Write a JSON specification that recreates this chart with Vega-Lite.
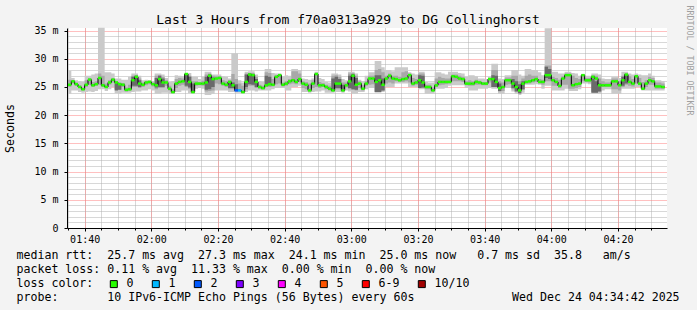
{
"$schema":"https://vega.github.io/schema/vega-lite/v6.json",
"width":600,"height":200,
"autosize":{"type":"none"},
"padding":{"left":67,"top":28,"right":30,"bottom":82},
"background":"#f3f3f3",
"config":{"font":"DejaVu Sans Mono","view":{"fill":"#ffffff","stroke":null}},
"title":{"text":"Last 3 Hours from f70a0313a929 to DG Collinghorst","font":"DejaVu Sans Mono","fontSize":13,"fontWeight":"normal","color":"#000000","anchor":"middle","dx":-19,"offset":4,"baseline":"alphabetic","dy":36},
"data":{"format":{"parse":{"t":"date"}},"values":[
{"t":"2025-12-24T01:35","m":25.4,"lo":23.8,"hi":27.9,"ml":25.0,"mh":26.3,"dl":25.4,"dh":25.4,"loss":"0"},
{"t":"2025-12-24T01:36","m":26.0,"lo":24.4,"hi":26.6,"ml":25.6,"mh":26.2,"dl":26.0,"dh":26.0,"loss":"0"},
{"t":"2025-12-24T01:37","m":25.5,"lo":24.4,"hi":26.2,"ml":25.2,"mh":25.8,"dl":25.5,"dh":25.5,"loss":"0"},
{"t":"2025-12-24T01:38","m":25.0,"lo":24.1,"hi":26.0,"ml":24.8,"mh":25.3,"dl":25.0,"dh":25.0,"loss":"0"},
{"t":"2025-12-24T01:39","m":24.6,"lo":24.0,"hi":25.9,"ml":24.4,"mh":24.9,"dl":24.6,"dh":24.6,"loss":"0"},
{"t":"2025-12-24T01:40","m":25.4,"lo":24.1,"hi":27.0,"ml":25.0,"mh":26.2,"dl":25.4,"dh":25.4,"loss":"0"},
{"t":"2025-12-24T01:41","m":26.3,"lo":24.2,"hi":27.0,"ml":25.4,"mh":26.6,"dl":26.3,"dh":26.3,"loss":"0"},
{"t":"2025-12-24T01:42","m":25.3,"lo":24.1,"hi":27.2,"ml":25.0,"mh":25.9,"dl":25.3,"dh":25.3,"loss":"0"},
{"t":"2025-12-24T01:43","m":25.5,"lo":24.3,"hi":27.4,"ml":25.2,"mh":26.0,"dl":25.5,"dh":25.5,"loss":"0"},
{"t":"2025-12-24T01:44","m":26.6,"lo":24.6,"hi":35.5,"ml":25.4,"mh":27.4,"dl":26.6,"dh":26.6,"loss":"0"},
{"t":"2025-12-24T01:45","m":25.3,"lo":24.6,"hi":35.5,"ml":25.0,"mh":27.0,"dl":25.3,"dh":25.3,"loss":"0"},
{"t":"2025-12-24T01:46","m":25.0,"lo":24.3,"hi":27.6,"ml":24.8,"mh":25.6,"dl":25.0,"dh":25.0,"loss":"0"},
{"t":"2025-12-24T01:47","m":25.8,"lo":24.6,"hi":27.6,"ml":25.4,"mh":26.2,"dl":25.8,"dh":25.8,"loss":"0"},
{"t":"2025-12-24T01:48","m":26.3,"lo":25.0,"hi":27.4,"ml":25.8,"mh":26.6,"dl":26.3,"dh":26.3,"loss":"0"},
{"t":"2025-12-24T01:49","m":25.8,"lo":23.9,"hi":26.5,"ml":24.6,"mh":26.0,"dl":24.4,"dh":25.8,"loss":"0"},
{"t":"2025-12-24T01:50","m":25.5,"lo":23.8,"hi":26.5,"ml":24.5,"mh":25.8,"dl":24.5,"dh":25.5,"loss":"0"},
{"t":"2025-12-24T01:51","m":25.4,"lo":24.0,"hi":26.3,"ml":25.0,"mh":25.7,"dl":25.4,"dh":25.4,"loss":"0"},
{"t":"2025-12-24T01:52","m":24.5,"lo":24.0,"hi":26.3,"ml":24.2,"mh":24.9,"dl":24.5,"dh":24.5,"loss":"0"},
{"t":"2025-12-24T01:53","m":24.6,"lo":24.0,"hi":26.8,"ml":24.3,"mh":25.4,"dl":24.6,"dh":24.6,"loss":"0"},
{"t":"2025-12-24T01:54","m":26.2,"lo":24.1,"hi":27.4,"ml":25.0,"mh":27.0,"dl":25.2,"dh":26.8,"loss":"0"},
{"t":"2025-12-24T01:55","m":26.8,"lo":24.2,"hi":27.4,"ml":25.0,"mh":27.1,"dl":25.2,"dh":27.0,"loss":"0"},
{"t":"2025-12-24T01:56","m":25.6,"lo":24.2,"hi":27.0,"ml":24.8,"mh":26.5,"dl":25.0,"dh":26.2,"loss":"0"},
{"t":"2025-12-24T01:57","m":25.4,"lo":24.4,"hi":26.2,"ml":25.0,"mh":25.8,"dl":25.4,"dh":25.4,"loss":"0"},
{"t":"2025-12-24T01:58","m":25.8,"lo":24.4,"hi":26.3,"ml":25.3,"mh":26.0,"dl":25.8,"dh":25.8,"loss":"0"},
{"t":"2025-12-24T01:59","m":25.9,"lo":24.6,"hi":26.2,"ml":25.5,"mh":26.1,"dl":25.9,"dh":25.9,"loss":"0"},
{"t":"2025-12-24T02:00","m":25.5,"lo":24.4,"hi":26.0,"ml":25.1,"mh":25.8,"dl":25.5,"dh":25.5,"loss":"0"},
{"t":"2025-12-24T02:01","m":25.3,"lo":23.8,"hi":27.4,"ml":24.6,"mh":27.0,"dl":24.9,"dh":26.6,"loss":"0"},
{"t":"2025-12-24T02:02","m":26.4,"lo":23.8,"hi":27.4,"ml":24.8,"mh":27.1,"dl":25.0,"dh":27.0,"loss":"0"},
{"t":"2025-12-24T02:03","m":25.8,"lo":24.0,"hi":27.2,"ml":24.8,"mh":26.8,"dl":25.0,"dh":26.5,"loss":"0"},
{"t":"2025-12-24T02:04","m":25.8,"lo":24.0,"hi":26.6,"ml":25.2,"mh":26.2,"dl":25.8,"dh":25.8,"loss":"0"},
{"t":"2025-12-24T02:05","m":24.7,"lo":23.8,"hi":25.9,"ml":24.4,"mh":25.2,"dl":24.7,"dh":24.7,"loss":"0"},
{"t":"2025-12-24T02:06","m":24.1,"lo":23.8,"hi":26.0,"ml":23.9,"mh":24.6,"dl":24.1,"dh":24.1,"loss":"0"},
{"t":"2025-12-24T02:07","m":25.6,"lo":24.1,"hi":27.1,"ml":24.8,"mh":26.4,"dl":25.6,"dh":25.6,"loss":"0"},
{"t":"2025-12-24T02:08","m":25.9,"lo":24.1,"hi":27.0,"ml":25.2,"mh":26.6,"dl":25.9,"dh":25.9,"loss":"0"},
{"t":"2025-12-24T02:09","m":26.0,"lo":24.4,"hi":26.9,"ml":25.4,"mh":26.5,"dl":26.0,"dh":26.0,"loss":"0"},
{"t":"2025-12-24T02:10","m":27.3,"lo":24.4,"hi":27.5,"ml":25.0,"mh":27.4,"dl":25.2,"dh":27.3,"loss":"0"},
{"t":"2025-12-24T02:11","m":25.9,"lo":23.9,"hi":27.5,"ml":24.7,"mh":27.0,"dl":24.9,"dh":26.8,"loss":"0"},
{"t":"2025-12-24T02:12","m":24.1,"lo":23.8,"hi":26.8,"ml":24.0,"mh":26.0,"dl":24.1,"dh":25.6,"loss":"0"},
{"t":"2025-12-24T02:13","m":25.6,"lo":24.7,"hi":26.8,"ml":25.2,"mh":26.0,"dl":25.6,"dh":25.6,"loss":"0"},
{"t":"2025-12-24T02:14","m":25.6,"lo":24.8,"hi":26.4,"ml":25.3,"mh":25.9,"dl":25.6,"dh":25.6,"loss":"0"},
{"t":"2025-12-24T02:15","m":25.6,"lo":24.7,"hi":26.8,"ml":25.2,"mh":26.1,"dl":25.6,"dh":25.6,"loss":"0"},
{"t":"2025-12-24T02:16","m":25.8,"lo":23.6,"hi":27.7,"ml":24.2,"mh":27.2,"dl":24.5,"dh":26.8,"loss":"0"},
{"t":"2025-12-24T02:17","m":27.0,"lo":23.6,"hi":27.7,"ml":24.3,"mh":27.4,"dl":24.6,"dh":27.2,"loss":"0"},
{"t":"2025-12-24T02:18","m":26.4,"lo":23.8,"hi":27.2,"ml":24.4,"mh":27.0,"dl":25.0,"dh":26.7,"loss":"0"},
{"t":"2025-12-24T02:19","m":26.5,"lo":24.4,"hi":27.2,"ml":25.6,"mh":26.9,"dl":26.5,"dh":26.5,"loss":"0"},
{"t":"2025-12-24T02:20","m":26.6,"lo":24.4,"hi":27.2,"ml":25.5,"mh":26.9,"dl":26.6,"dh":26.6,"loss":"0"},
{"t":"2025-12-24T02:21","m":25.6,"lo":24.4,"hi":26.9,"ml":25.2,"mh":26.2,"dl":25.6,"dh":25.6,"loss":"0"},
{"t":"2025-12-24T02:22","m":25.4,"lo":24.4,"hi":26.8,"ml":25.0,"mh":26.0,"dl":25.4,"dh":25.4,"loss":"0"},
{"t":"2025-12-24T02:23","m":25.9,"lo":24.1,"hi":26.5,"ml":24.6,"mh":26.2,"dl":24.8,"dh":26.0,"loss":"0"},
{"t":"2025-12-24T02:24","m":25.3,"lo":24.1,"hi":31.0,"ml":24.6,"mh":27.3,"dl":24.8,"dh":25.8,"loss":"0"},
{"t":"2025-12-24T02:25","m":24.4,"lo":24.0,"hi":31.0,"ml":24.2,"mh":26.4,"dl":24.3,"dh":25.5,"loss":"2"},
{"t":"2025-12-24T02:26","m":24.4,"lo":24.0,"hi":26.2,"ml":24.2,"mh":25.6,"dl":24.4,"dh":24.4,"loss":"1"},
{"t":"2025-12-24T02:27","m":24.1,"lo":23.8,"hi":25.8,"ml":24.0,"mh":25.2,"dl":24.1,"dh":24.1,"loss":"0"},
{"t":"2025-12-24T02:28","m":25.9,"lo":24.1,"hi":27.7,"ml":24.6,"mh":27.4,"dl":25.0,"dh":27.2,"loss":"0"},
{"t":"2025-12-24T02:29","m":27.2,"lo":24.4,"hi":27.8,"ml":25.2,"mh":27.5,"dl":25.5,"dh":27.4,"loss":"0"},
{"t":"2025-12-24T02:30","m":27.1,"lo":24.4,"hi":27.8,"ml":25.2,"mh":27.5,"dl":25.4,"dh":27.3,"loss":"0"},
{"t":"2025-12-24T02:31","m":25.9,"lo":24.2,"hi":27.2,"ml":24.8,"mh":26.8,"dl":25.0,"dh":26.4,"loss":"0"},
{"t":"2025-12-24T02:32","m":25.0,"lo":24.4,"hi":26.0,"ml":24.7,"mh":25.4,"dl":25.0,"dh":25.0,"loss":"0"},
{"t":"2025-12-24T02:33","m":24.8,"lo":24.4,"hi":25.9,"ml":24.6,"mh":25.2,"dl":24.8,"dh":24.8,"loss":"0"},
{"t":"2025-12-24T02:34","m":25.3,"lo":24.4,"hi":28.2,"ml":25.0,"mh":27.6,"dl":25.3,"dh":27.0,"loss":"0"},
{"t":"2025-12-24T02:35","m":25.5,"lo":24.4,"hi":28.2,"ml":25.0,"mh":27.5,"dl":25.3,"dh":26.8,"loss":"0"},
{"t":"2025-12-24T02:36","m":25.4,"lo":24.6,"hi":27.5,"ml":25.1,"mh":26.4,"dl":25.4,"dh":25.4,"loss":"0"},
{"t":"2025-12-24T02:37","m":26.8,"lo":24.8,"hi":27.4,"ml":25.5,"mh":27.1,"dl":26.8,"dh":26.8,"loss":"0"},
{"t":"2025-12-24T02:38","m":27.1,"lo":24.8,"hi":27.4,"ml":25.6,"mh":27.3,"dl":27.1,"dh":27.1,"loss":"0"},
{"t":"2025-12-24T02:39","m":25.4,"lo":24.8,"hi":26.9,"ml":25.1,"mh":25.8,"dl":25.4,"dh":25.4,"loss":"0"},
{"t":"2025-12-24T02:40","m":25.6,"lo":24.4,"hi":27.1,"ml":25.2,"mh":26.0,"dl":25.6,"dh":25.6,"loss":"0"},
{"t":"2025-12-24T02:41","m":26.0,"lo":24.4,"hi":27.0,"ml":25.5,"mh":26.4,"dl":26.0,"dh":26.0,"loss":"0"},
{"t":"2025-12-24T02:42","m":26.2,"lo":25.0,"hi":28.2,"ml":25.6,"mh":27.8,"dl":26.2,"dh":26.2,"loss":"0"},
{"t":"2025-12-24T02:43","m":25.9,"lo":25.0,"hi":28.2,"ml":25.5,"mh":27.8,"dl":25.9,"dh":25.9,"loss":"0"},
{"t":"2025-12-24T02:44","m":26.4,"lo":25.2,"hi":28.0,"ml":25.9,"mh":27.4,"dl":26.4,"dh":26.4,"loss":"0"},
{"t":"2025-12-24T02:45","m":25.6,"lo":24.1,"hi":26.5,"ml":24.8,"mh":26.0,"dl":25.6,"dh":25.6,"loss":"0"},
{"t":"2025-12-24T02:46","m":25.4,"lo":24.1,"hi":26.4,"ml":24.6,"mh":25.9,"dl":25.4,"dh":25.4,"loss":"0"},
{"t":"2025-12-24T02:47","m":24.4,"lo":24.0,"hi":26.3,"ml":24.2,"mh":25.6,"dl":24.4,"dh":24.4,"loss":"0"},
{"t":"2025-12-24T02:48","m":25.6,"lo":24.1,"hi":26.5,"ml":24.8,"mh":26.2,"dl":25.6,"dh":25.6,"loss":"0"},
{"t":"2025-12-24T02:49","m":27.3,"lo":24.2,"hi":27.7,"ml":25.0,"mh":27.5,"dl":27.3,"dh":27.3,"loss":"0"},
{"t":"2025-12-24T02:50","m":25.3,"lo":24.2,"hi":26.6,"ml":24.8,"mh":25.9,"dl":25.3,"dh":25.3,"loss":"0"},
{"t":"2025-12-24T02:51","m":25.3,"lo":24.4,"hi":26.4,"ml":25.0,"mh":25.7,"dl":25.3,"dh":25.3,"loss":"0"},
{"t":"2025-12-24T02:52","m":25.0,"lo":24.0,"hi":25.9,"ml":24.6,"mh":25.4,"dl":25.0,"dh":25.0,"loss":"0"},
{"t":"2025-12-24T02:53","m":24.7,"lo":24.0,"hi":25.8,"ml":24.4,"mh":25.2,"dl":24.7,"dh":24.7,"loss":"0"},
{"t":"2025-12-24T02:54","m":24.4,"lo":24.0,"hi":27.4,"ml":24.2,"mh":27.0,"dl":24.3,"dh":26.5,"loss":"0"},
{"t":"2025-12-24T02:55","m":25.6,"lo":24.1,"hi":27.4,"ml":24.6,"mh":27.1,"dl":24.8,"dh":26.8,"loss":"0"},
{"t":"2025-12-24T02:56","m":25.6,"lo":24.1,"hi":27.2,"ml":24.6,"mh":26.8,"dl":24.8,"dh":26.4,"loss":"0"},
{"t":"2025-12-24T02:57","m":24.4,"lo":24.0,"hi":26.4,"ml":24.2,"mh":25.8,"dl":24.3,"dh":25.4,"loss":"0"},
{"t":"2025-12-24T02:58","m":25.3,"lo":24.4,"hi":26.2,"ml":24.9,"mh":25.8,"dl":25.3,"dh":25.3,"loss":"0"},
{"t":"2025-12-24T02:59","m":26.0,"lo":24.2,"hi":27.7,"ml":24.6,"mh":27.4,"dl":24.8,"dh":27.0,"loss":"0"},
{"t":"2025-12-24T03:00","m":27.0,"lo":23.8,"hi":27.7,"ml":24.5,"mh":27.5,"dl":24.6,"dh":27.3,"loss":"0"},
{"t":"2025-12-24T03:01","m":25.4,"lo":23.8,"hi":27.4,"ml":24.4,"mh":27.0,"dl":24.5,"dh":26.6,"loss":"0"},
{"t":"2025-12-24T03:02","m":25.6,"lo":24.1,"hi":26.3,"ml":24.8,"mh":26.0,"dl":25.6,"dh":25.6,"loss":"0"},
{"t":"2025-12-24T03:03","m":24.7,"lo":24.1,"hi":26.0,"ml":24.4,"mh":25.3,"dl":24.7,"dh":24.7,"loss":"0"},
{"t":"2025-12-24T03:04","m":25.6,"lo":24.6,"hi":27.0,"ml":25.2,"mh":26.0,"dl":25.6,"dh":25.6,"loss":"0"},
{"t":"2025-12-24T03:05","m":26.5,"lo":24.8,"hi":27.6,"ml":25.4,"mh":27.0,"dl":26.5,"dh":26.5,"loss":"0"},
{"t":"2025-12-24T03:06","m":26.5,"lo":24.8,"hi":27.6,"ml":25.5,"mh":27.0,"dl":26.5,"dh":26.5,"loss":"0"},
{"t":"2025-12-24T03:07","m":25.9,"lo":24.0,"hi":29.6,"ml":24.2,"mh":28.0,"dl":24.1,"dh":27.1,"loss":"0"},
{"t":"2025-12-24T03:08","m":26.2,"lo":24.0,"hi":29.6,"ml":24.2,"mh":28.2,"dl":24.1,"dh":27.1,"loss":"0"},
{"t":"2025-12-24T03:09","m":25.4,"lo":24.1,"hi":28.5,"ml":24.4,"mh":27.6,"dl":24.4,"dh":26.5,"loss":"0"},
{"t":"2025-12-24T03:10","m":26.5,"lo":25.0,"hi":28.0,"ml":25.6,"mh":27.0,"dl":26.5,"dh":26.5,"loss":"0"},
{"t":"2025-12-24T03:11","m":27.0,"lo":25.0,"hi":28.0,"ml":25.8,"mh":27.4,"dl":27.0,"dh":27.0,"loss":"0"},
{"t":"2025-12-24T03:12","m":26.5,"lo":25.0,"hi":27.8,"ml":25.6,"mh":27.0,"dl":26.5,"dh":26.5,"loss":"0"},
{"t":"2025-12-24T03:13","m":26.4,"lo":25.6,"hi":28.5,"ml":26.0,"mh":27.0,"dl":26.4,"dh":26.4,"loss":"0"},
{"t":"2025-12-24T03:14","m":26.2,"lo":25.6,"hi":28.5,"ml":25.9,"mh":26.8,"dl":26.2,"dh":26.2,"loss":"0"},
{"t":"2025-12-24T03:15","m":26.4,"lo":25.6,"hi":28.5,"ml":25.9,"mh":27.6,"dl":26.4,"dh":26.4,"loss":"0"},
{"t":"2025-12-24T03:16","m":26.5,"lo":25.6,"hi":28.5,"ml":26.0,"mh":27.8,"dl":26.5,"dh":26.5,"loss":"0"},
{"t":"2025-12-24T03:17","m":27.1,"lo":25.0,"hi":27.6,"ml":25.8,"mh":27.4,"dl":27.1,"dh":27.1,"loss":"0"},
{"t":"2025-12-24T03:18","m":25.6,"lo":25.0,"hi":27.4,"ml":25.2,"mh":26.6,"dl":25.6,"dh":25.6,"loss":"0"},
{"t":"2025-12-24T03:19","m":25.8,"lo":25.0,"hi":27.2,"ml":25.4,"mh":26.4,"dl":25.8,"dh":25.8,"loss":"0"},
{"t":"2025-12-24T03:20","m":26.2,"lo":24.6,"hi":27.7,"ml":24.8,"mh":27.4,"dl":24.8,"dh":27.1,"loss":"0"},
{"t":"2025-12-24T03:21","m":25.8,"lo":24.6,"hi":27.7,"ml":24.8,"mh":27.4,"dl":24.9,"dh":27.0,"loss":"0"},
{"t":"2025-12-24T03:22","m":25.0,"lo":23.8,"hi":25.9,"ml":24.6,"mh":25.4,"dl":25.0,"dh":25.0,"loss":"0"},
{"t":"2025-12-24T03:23","m":25.0,"lo":23.8,"hi":25.8,"ml":24.6,"mh":25.4,"dl":25.0,"dh":25.0,"loss":"0"},
{"t":"2025-12-24T03:24","m":24.4,"lo":23.8,"hi":25.8,"ml":24.2,"mh":24.9,"dl":24.4,"dh":24.4,"loss":"0"},
{"t":"2025-12-24T03:25","m":25.3,"lo":24.7,"hi":27.6,"ml":25.0,"mh":26.5,"dl":25.3,"dh":25.3,"loss":"0"},
{"t":"2025-12-24T03:26","m":25.9,"lo":24.7,"hi":27.6,"ml":25.3,"mh":26.8,"dl":25.9,"dh":25.9,"loss":"0"},
{"t":"2025-12-24T03:27","m":25.9,"lo":24.7,"hi":27.4,"ml":25.4,"mh":26.6,"dl":25.9,"dh":25.9,"loss":"0"},
{"t":"2025-12-24T03:28","m":25.9,"lo":24.8,"hi":27.2,"ml":25.5,"mh":26.5,"dl":25.9,"dh":25.9,"loss":"0"},
{"t":"2025-12-24T03:29","m":25.9,"lo":25.2,"hi":27.7,"ml":25.6,"mh":26.5,"dl":25.9,"dh":25.9,"loss":"0"},
{"t":"2025-12-24T03:30","m":26.9,"lo":25.3,"hi":27.7,"ml":26.0,"mh":27.2,"dl":26.9,"dh":26.9,"loss":"0"},
{"t":"2025-12-24T03:31","m":26.8,"lo":25.3,"hi":27.7,"ml":26.0,"mh":27.2,"dl":26.8,"dh":26.8,"loss":"0"},
{"t":"2025-12-24T03:32","m":26.5,"lo":25.3,"hi":27.5,"ml":26.0,"mh":27.0,"dl":26.5,"dh":26.5,"loss":"0"},
{"t":"2025-12-24T03:33","m":26.4,"lo":25.3,"hi":27.4,"ml":25.9,"mh":26.8,"dl":26.4,"dh":26.4,"loss":"0"},
{"t":"2025-12-24T03:34","m":25.6,"lo":24.8,"hi":26.8,"ml":25.3,"mh":26.0,"dl":25.6,"dh":25.6,"loss":"0"},
{"t":"2025-12-24T03:35","m":25.6,"lo":24.4,"hi":27.1,"ml":25.2,"mh":26.2,"dl":25.6,"dh":25.6,"loss":"0"},
{"t":"2025-12-24T03:36","m":25.6,"lo":24.4,"hi":27.1,"ml":25.2,"mh":26.0,"dl":25.6,"dh":25.6,"loss":"0"},
{"t":"2025-12-24T03:37","m":25.9,"lo":24.4,"hi":26.9,"ml":25.4,"mh":26.3,"dl":25.9,"dh":25.9,"loss":"0"},
{"t":"2025-12-24T03:38","m":25.8,"lo":24.7,"hi":26.5,"ml":25.4,"mh":26.1,"dl":25.8,"dh":25.8,"loss":"0"},
{"t":"2025-12-24T03:39","m":25.6,"lo":24.7,"hi":26.5,"ml":25.3,"mh":25.9,"dl":25.6,"dh":25.6,"loss":"0"},
{"t":"2025-12-24T03:40","m":25.6,"lo":24.7,"hi":26.4,"ml":25.3,"mh":25.9,"dl":25.6,"dh":25.6,"loss":"0"},
{"t":"2025-12-24T03:41","m":26.4,"lo":24.8,"hi":26.8,"ml":25.8,"mh":26.6,"dl":26.4,"dh":26.4,"loss":"0"},
{"t":"2025-12-24T03:42","m":26.4,"lo":24.7,"hi":29.1,"ml":25.0,"mh":28.0,"dl":25.0,"dh":27.1,"loss":"0"},
{"t":"2025-12-24T03:43","m":25.9,"lo":24.7,"hi":29.1,"ml":25.0,"mh":28.0,"dl":25.0,"dh":27.0,"loss":"0"},
{"t":"2025-12-24T03:44","m":24.8,"lo":23.8,"hi":26.5,"ml":24.2,"mh":26.0,"dl":24.3,"dh":25.6,"loss":"0"},
{"t":"2025-12-24T03:45","m":25.0,"lo":23.8,"hi":26.4,"ml":24.3,"mh":25.8,"dl":25.0,"dh":25.0,"loss":"0"},
{"t":"2025-12-24T03:46","m":26.2,"lo":24.8,"hi":27.1,"ml":25.4,"mh":26.7,"dl":26.2,"dh":26.2,"loss":"0"},
{"t":"2025-12-24T03:47","m":26.2,"lo":24.8,"hi":27.1,"ml":25.5,"mh":26.7,"dl":26.2,"dh":26.2,"loss":"0"},
{"t":"2025-12-24T03:48","m":25.6,"lo":24.2,"hi":28.0,"ml":24.6,"mh":27.0,"dl":24.8,"dh":26.4,"loss":"0"},
{"t":"2025-12-24T03:49","m":25.0,"lo":23.8,"hi":28.0,"ml":24.2,"mh":27.0,"dl":24.2,"dh":26.0,"loss":"0"},
{"t":"2025-12-24T03:50","m":24.4,"lo":23.6,"hi":27.2,"ml":23.8,"mh":26.0,"dl":23.9,"dh":25.5,"loss":"0"},
{"t":"2025-12-24T03:51","m":25.6,"lo":24.0,"hi":27.0,"ml":24.5,"mh":26.5,"dl":24.6,"dh":26.0,"loss":"0"},
{"t":"2025-12-24T03:52","m":25.9,"lo":25.4,"hi":28.2,"ml":25.6,"mh":27.0,"dl":25.9,"dh":25.9,"loss":"0"},
{"t":"2025-12-24T03:53","m":26.0,"lo":25.4,"hi":28.2,"ml":25.6,"mh":27.2,"dl":26.0,"dh":26.0,"loss":"0"},
{"t":"2025-12-24T03:54","m":26.2,"lo":25.4,"hi":28.0,"ml":25.8,"mh":27.0,"dl":26.2,"dh":26.2,"loss":"0"},
{"t":"2025-12-24T03:55","m":26.4,"lo":25.5,"hi":28.0,"ml":25.9,"mh":27.0,"dl":26.4,"dh":26.4,"loss":"0"},
{"t":"2025-12-24T03:56","m":25.9,"lo":25.4,"hi":27.6,"ml":25.6,"mh":26.4,"dl":25.9,"dh":25.9,"loss":"0"},
{"t":"2025-12-24T03:57","m":25.9,"lo":24.7,"hi":27.1,"ml":25.4,"mh":26.3,"dl":25.9,"dh":25.9,"loss":"0"},
{"t":"2025-12-24T03:58","m":27.1,"lo":25.2,"hi":35.4,"ml":26.0,"mh":28.8,"dl":26.6,"dh":28.6,"loss":"0"},
{"t":"2025-12-24T03:59","m":27.1,"lo":25.2,"hi":35.4,"ml":26.0,"mh":28.8,"dl":26.4,"dh":28.2,"loss":"0"},
{"t":"2025-12-24T04:00","m":26.2,"lo":24.4,"hi":27.7,"ml":25.2,"mh":26.8,"dl":26.2,"dh":26.2,"loss":"0"},
{"t":"2025-12-24T04:01","m":25.9,"lo":24.4,"hi":27.7,"ml":25.2,"mh":26.6,"dl":25.9,"dh":25.9,"loss":"0"},
{"t":"2025-12-24T04:02","m":25.2,"lo":24.4,"hi":27.4,"ml":24.8,"mh":26.3,"dl":25.2,"dh":25.2,"loss":"0"},
{"t":"2025-12-24T04:03","m":26.5,"lo":24.4,"hi":27.4,"ml":25.4,"mh":26.9,"dl":26.5,"dh":26.5,"loss":"0"},
{"t":"2025-12-24T04:04","m":27.1,"lo":24.7,"hi":27.7,"ml":25.4,"mh":27.4,"dl":27.1,"dh":27.1,"loss":"0"},
{"t":"2025-12-24T04:05","m":27.1,"lo":24.3,"hi":27.7,"ml":24.7,"mh":27.4,"dl":27.1,"dh":27.1,"loss":"0"},
{"t":"2025-12-24T04:06","m":25.3,"lo":24.3,"hi":27.5,"ml":24.7,"mh":27.0,"dl":25.3,"dh":25.3,"loss":"0"},
{"t":"2025-12-24T04:07","m":25.5,"lo":24.3,"hi":27.4,"ml":24.8,"mh":26.6,"dl":25.5,"dh":25.5,"loss":"0"},
{"t":"2025-12-24T04:08","m":25.6,"lo":24.6,"hi":27.0,"ml":25.0,"mh":26.4,"dl":25.6,"dh":25.6,"loss":"0"},
{"t":"2025-12-24T04:09","m":27.1,"lo":25.6,"hi":27.3,"ml":26.0,"mh":27.2,"dl":27.1,"dh":27.1,"loss":"0"},
{"t":"2025-12-24T04:10","m":26.2,"lo":25.6,"hi":27.0,"ml":25.9,"mh":26.6,"dl":26.2,"dh":26.2,"loss":"0"},
{"t":"2025-12-24T04:11","m":26.2,"lo":25.5,"hi":27.0,"ml":25.8,"mh":26.6,"dl":26.2,"dh":26.2,"loss":"0"},
{"t":"2025-12-24T04:12","m":26.8,"lo":23.8,"hi":27.4,"ml":24.2,"mh":27.1,"dl":24.0,"dh":26.5,"loss":"0"},
{"t":"2025-12-24T04:13","m":26.5,"lo":23.8,"hi":27.4,"ml":24.2,"mh":27.0,"dl":24.0,"dh":26.0,"loss":"0"},
{"t":"2025-12-24T04:14","m":25.3,"lo":23.8,"hi":27.2,"ml":24.2,"mh":26.5,"dl":24.2,"dh":25.6,"loss":"0"},
{"t":"2025-12-24T04:15","m":25.3,"lo":24.4,"hi":26.5,"ml":25.0,"mh":26.0,"dl":25.3,"dh":25.3,"loss":"0"},
{"t":"2025-12-24T04:16","m":25.3,"lo":24.6,"hi":26.4,"ml":25.0,"mh":25.8,"dl":25.3,"dh":25.3,"loss":"0"},
{"t":"2025-12-24T04:17","m":25.3,"lo":24.6,"hi":26.4,"ml":25.0,"mh":25.8,"dl":25.3,"dh":25.3,"loss":"0"},
{"t":"2025-12-24T04:18","m":26.0,"lo":23.8,"hi":26.8,"ml":24.6,"mh":26.5,"dl":26.0,"dh":26.0,"loss":"0"},
{"t":"2025-12-24T04:19","m":26.0,"lo":23.8,"hi":26.8,"ml":24.6,"mh":26.5,"dl":26.0,"dh":26.0,"loss":"0"},
{"t":"2025-12-24T04:20","m":25.3,"lo":23.8,"hi":26.6,"ml":24.4,"mh":26.0,"dl":25.3,"dh":25.3,"loss":"0"},
{"t":"2025-12-24T04:21","m":26.2,"lo":24.7,"hi":27.7,"ml":25.0,"mh":27.0,"dl":25.2,"dh":26.8,"loss":"0"},
{"t":"2025-12-24T04:22","m":27.2,"lo":24.7,"hi":27.7,"ml":25.4,"mh":27.4,"dl":25.6,"dh":27.3,"loss":"0"},
{"t":"2025-12-24T04:23","m":25.9,"lo":24.7,"hi":27.4,"ml":25.2,"mh":26.9,"dl":25.9,"dh":25.9,"loss":"0"},
{"t":"2025-12-24T04:24","m":25.6,"lo":24.7,"hi":27.2,"ml":25.1,"mh":26.4,"dl":25.6,"dh":25.6,"loss":"0"},
{"t":"2025-12-24T04:25","m":26.9,"lo":25.0,"hi":27.4,"ml":25.6,"mh":27.1,"dl":26.9,"dh":26.9,"loss":"0"},
{"t":"2025-12-24T04:26","m":25.6,"lo":25.0,"hi":27.2,"ml":25.3,"mh":26.6,"dl":25.6,"dh":25.6,"loss":"0"},
{"t":"2025-12-24T04:27","m":24.7,"lo":24.4,"hi":27.1,"ml":24.6,"mh":25.9,"dl":24.7,"dh":24.7,"loss":"0"},
{"t":"2025-12-24T04:28","m":25.6,"lo":24.4,"hi":27.1,"ml":25.0,"mh":26.2,"dl":25.6,"dh":25.6,"loss":"0"},
{"t":"2025-12-24T04:29","m":26.2,"lo":24.4,"hi":27.4,"ml":25.4,"mh":26.8,"dl":26.2,"dh":26.2,"loss":"0"},
{"t":"2025-12-24T04:30","m":26.0,"lo":24.4,"hi":27.0,"ml":25.4,"mh":26.6,"dl":26.0,"dh":26.0,"loss":"0"},
{"t":"2025-12-24T04:31","m":25.1,"lo":24.4,"hi":26.2,"ml":24.7,"mh":25.8,"dl":25.1,"dh":25.1,"loss":"0"},
{"t":"2025-12-24T04:32","m":25.1,"lo":24.4,"hi":26.2,"ml":24.7,"mh":25.8,"dl":25.1,"dh":25.1,"loss":"0"},
{"t":"2025-12-24T04:33","m":25.0,"lo":24.4,"hi":26.0,"ml":24.7,"mh":25.6,"dl":25.0,"dh":25.0,"loss":"0"},
{"t":"2025-12-24T04:34","m":25.0,"lo":24.4,"hi":26.0,"ml":24.7,"mh":25.6,"dl":25.0,"dh":25.0,"loss":"0"}
]},
"resolve":{"axis":{"x":"independent","y":"independent"}},
"layer":[
{"mark":{"type":"area","interpolate":"step-after","fill":"#cacaca"},
 "encoding":{
  "x":{"field":"t","type":"temporal","scale":{"domain":[{"year":2025,"month":12,"date":24,"hours":1,"minutes":34,"seconds":42},{"year":2025,"month":12,"date":24,"hours":4,"minutes":34,"seconds":42}]},
   "axis":{"orient":"bottom","grid":true,"gridColor":"#b0b0b0","gridDash":[1,1],"tickCount":36,"labels":false,"ticks":true,"tickSize":2,"tickColor":"#000000","domain":false,"title":null}},
  "y":{"field":"lo","type":"quantitative","scale":{"domain":[0,35.46],"nice":false,"zero":false},
   "axis":{"orient":"left","grid":true,"gridColor":"#b0b0b0","gridDash":[1,1],"values":[1,2,3,4,6,7,8,9,11,12,13,14,16,17,18,19,21,22,23,24,26,27,28,29,31,32,33,34],"labels":false,"ticks":false,"domain":false,"title":null}},
  "y2":{"field":"hi"}}},
{"mark":{"type":"area","interpolate":"step-after","fill":"#a8a8a8"},
 "encoding":{
  "x":{"field":"t","type":"temporal","scale":{"domain":[{"year":2025,"month":12,"date":24,"hours":1,"minutes":34,"seconds":42},{"year":2025,"month":12,"date":24,"hours":4,"minutes":34,"seconds":42}]},
   "axis":{"orient":"bottom","grid":true,"gridColor":"#ff8080","gridDash":[1,1],
    "values":[{"year":2025,"month":12,"date":24,"hours":1,"minutes":40},{"year":2025,"month":12,"date":24,"hours":2,"minutes":0},{"year":2025,"month":12,"date":24,"hours":2,"minutes":20},{"year":2025,"month":12,"date":24,"hours":2,"minutes":40},{"year":2025,"month":12,"date":24,"hours":3,"minutes":0},{"year":2025,"month":12,"date":24,"hours":3,"minutes":20},{"year":2025,"month":12,"date":24,"hours":3,"minutes":40},{"year":2025,"month":12,"date":24,"hours":4,"minutes":0},{"year":2025,"month":12,"date":24,"hours":4,"minutes":20}],
    "format":"%H:%M","labelFont":"DejaVu Sans Mono","labelFontSize":10,"labelColor":"#000000","labelPadding":3,"labelFlush":false,"tickSize":3,"tickColor":"#000000","domain":true,"domainColor":"#000000",
    "title":["median\u00a0rtt:\u00a0\u00a025.7\u00a0ms\u00a0avg\u00a0\u00a027.3\u00a0ms\u00a0max\u00a0\u00a024.1\u00a0ms\u00a0min\u00a0\u00a025.0\u00a0ms\u00a0now\u00a0\u00a0\u00a00.7\u00a0ms\u00a0sd\u00a0\u00a035.8\u00a0\u00a0\u00a0am/s","packet\u00a0loss:\u00a00.11\u00a0%\u00a0avg\u00a0\u00a011.33\u00a0%\u00a0max\u00a0\u00a00.00\u00a0%\u00a0min\u00a0\u00a00.00\u00a0%\u00a0now","loss\u00a0color:","probe:\u00a0\u00a0\u00a0\u00a0\u00a0\u00a0\u00a010\u00a0IPv6-ICMP\u00a0Echo\u00a0Pings\u00a0(56\u00a0Bytes)\u00a0every\u00a060s\u00a0\u00a0\u00a0\u00a0\u00a0\u00a0\u00a0\u00a0\u00a0\u00a0\u00a0\u00a0\u00a0\u00a0Wed\u00a0Dec\u00a024\u00a004:34:42\u00a02025"],
    "titleFont":"DejaVu Sans Mono","titleFontSize":11.6,"titleFontWeight":"normal","titleColor":"#000000","titleAnchor":"start","titleAlign":"left","titleX":-51,"titleY":30,"titleBaseline":"alphabetic","titleLineHeight":14}},
  "y":{"field":"ml","type":"quantitative","scale":{"domain":[0,35.46],"nice":false,"zero":false},
   "axis":{"orient":"left","grid":true,"gridColor":"#ff8080","gridDash":[1,1],"values":[0,5,10,15,20,25,30,35],"labelExpr":"datum.value == 0 ? '0' : datum.value + ' m'","labelFont":"DejaVu Sans Mono","labelFontSize":10,"labelColor":"#000000","labelPadding":6,"labelFlush":false,"tickSize":3,"tickColor":"#000000","domain":true,"domainColor":"#000000",
    "title":"Seconds","titleFont":"DejaVu Sans Mono","titleFontSize":11.6,"titleFontWeight":"normal","titleColor":"#000000","titleAngle":-90,"titleX":-57,"titleY":100,"titleAlign":"center","titleBaseline":"middle"}},
  "y2":{"field":"mh"}}},
{"mark":{"type":"area","interpolate":"step-after","fill":"#6a6a6a"},
 "encoding":{
  "x":{"field":"t","type":"temporal","scale":{"domain":[{"year":2025,"month":12,"date":24,"hours":1,"minutes":34,"seconds":42},{"year":2025,"month":12,"date":24,"hours":4,"minutes":34,"seconds":42}]},"axis":null},
  "y":{"field":"dl","type":"quantitative","scale":{"domain":[0,35.46],"nice":false,"zero":false},"axis":null},
  "y2":{"field":"dh"}}},
{"mark":{"type":"line","interpolate":"step-after","stroke":"#000000","strokeWidth":1},
 "encoding":{
  "x":{"field":"t","type":"temporal","scale":{"domain":[{"year":2025,"month":12,"date":24,"hours":1,"minutes":34,"seconds":42},{"year":2025,"month":12,"date":24,"hours":4,"minutes":34,"seconds":42}]},"axis":null},
  "y":{"field":"m","type":"quantitative","scale":{"domain":[0,35.46],"nice":false,"zero":false},
   "axis":{"orient":"right","grid":false,"labels":false,"ticks":false,"domain":false,"title":"RRDTOOL / TOBI OETIKER","titleFont":"DejaVu Sans Mono","titleFontSize":8.3,"titleFontWeight":"normal","titleColor":"#a0a0a0","titleAngle":90,"titleX":21,"titleY":32,"titleAlign":"center","titleBaseline":"middle"}}}},
{"transform":[{"window":[{"op":"lead","field":"t","as":"t2"}],"sort":[{"field":"t"}]},{"filter":"datum.t2 != null"}],
 "mark":{"type":"rule","strokeWidth":2.5},
 "encoding":{
  "x":{"field":"t","type":"temporal","scale":{"domain":[{"year":2025,"month":12,"date":24,"hours":1,"minutes":34,"seconds":42},{"year":2025,"month":12,"date":24,"hours":4,"minutes":34,"seconds":42}]},"axis":null},
  "x2":{"field":"t2"},
  "y":{"field":"m","type":"quantitative","scale":{"domain":[0,35.46],"nice":false,"zero":false},"axis":null},
  "color":{"field":"loss","type":"nominal","scale":{"domain":["0","1","2"],"range":["#26ff00","#00b8ff","#0059ff"]},"legend":null}}},
{"transform":[{"filter":"datum.m > 100"}],
 "mark":{"type":"square","filled":true,"stroke":"#000000","strokeWidth":1,"opacity":1},
 "encoding":{
  "x":{"field":"t","type":"temporal","scale":{"domain":[{"year":2025,"month":12,"date":24,"hours":1,"minutes":34,"seconds":42},{"year":2025,"month":12,"date":24,"hours":4,"minutes":34,"seconds":42}]},"axis":null},
  "y":{"field":"m","type":"quantitative","scale":{"domain":[0,35.46],"nice":false,"zero":false},"axis":null},
  "fill":{"field":"loss","type":"nominal","scale":{"domain":["0","1","2","3","4","5","6-9","10/10"],"range":["#26ff00","#00b8ff","#0059ff","#7e00ff","#ff00ff","#ff5500","#ff0000","#a10000"]},
   "legend":{"orient":"none","legendX":41,"legendY":250,"direction":"horizontal","title":null,"symbolType":"square","symbolSize":49,"symbolStrokeWidth":1,"symbolStrokeColor":"#000000","labelFont":"DejaVu Sans Mono","labelFontSize":11.6,"labelColor":"#000000","labelOffset":7,"columnPadding":16,"padding":0}}}}
]
}
